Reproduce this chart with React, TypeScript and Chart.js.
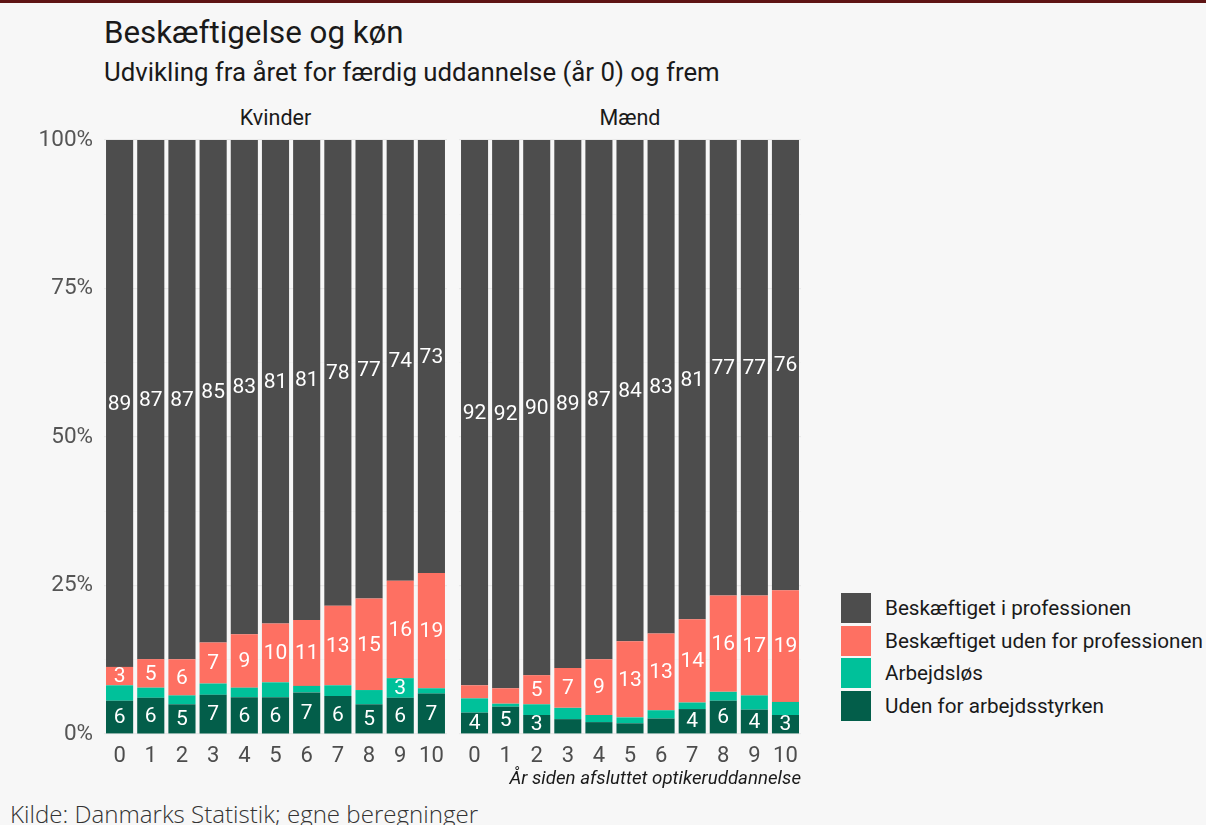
import React, { useEffect, useRef } from "react";
import { Chart, registerables } from "chart.js";
Chart.register(...registerables);

const years = ["0", "1", "2", "3", "4", "5", "6", "7", "8", "9", "10"];
const seriesNames = [
  "Uden for arbejdsstyrken",
  "Arbejdsløs",
  "Beskæftiget uden for professionen",
  "Beskæftiget i professionen",
];
const seriesColors = ["#035e4a", "#00c19a", "#fe7062", "#4d4d4d"];

// Kvinder (women)
const kvUden = [5.6, 6.1, 5.0, 6.6, 6.2, 6.2, 7.0, 6.4, 5.0, 6.1, 6.8];
const kvArbejdslos = [2.6, 1.7, 1.5, 1.9, 1.6, 2.5, 1.1, 1.8, 2.4, 3.3, 0.9];
const kvUdenFor = [3.1, 4.8, 6.1, 6.9, 9.0, 9.9, 11.1, 13.4, 15.4, 16.4, 19.4];
const kvProf = [88.7, 87.4, 87.4, 84.6, 83.2, 81.4, 80.8, 78.4, 77.2, 74.2, 72.9];

// Mænd (men)
const mUden = [3.6, 4.6, 3.2, 2.5, 2.0, 1.8, 2.6, 4.2, 5.6, 4.1, 3.2];
const mArbejdslos = [2.4, 0.5, 1.8, 1.9, 1.2, 1.0, 1.4, 1.1, 1.5, 2.4, 2.2];
const mUdenFor = [2.2, 2.6, 4.9, 6.7, 9.4, 12.8, 12.9, 14.0, 16.2, 16.8, 18.8];
const mProf = [91.8, 92.3, 90.1, 88.9, 87.4, 84.4, 83.1, 80.7, 76.7, 76.7, 75.8];

const yTickValues = [0, 25, 50, 75, 100];

const FONT = "Roboto";

const labelPlugin = {
  id: "segLabels",
  afterDatasetsDraw(chart: any) {
    const ctx = chart.ctx;
    ctx.save();
    ctx.font = `21px ${FONT}`;
    ctx.fillStyle = "#ffffff";
    ctx.textAlign = "center";
    ctx.textBaseline = "middle";
    chart.data.datasets.forEach((ds: any, i: number) => {
      const meta = chart.getDatasetMeta(i);
      meta.data.forEach((el: any, j: number) => {
        const v = ds.data[j];
        if (v >= 3) {
          const p = el.getProps(["x", "y", "base"], true);
          ctx.fillText(String(Math.round(v)), p.x, (p.y + p.base) / 2 + 1);
        }
      });
    });
    ctx.restore();
  },
};

function makeChart(canvas: HTMLCanvasElement, series: number[][], showY: boolean) {
  return new Chart(canvas, {
    type: "bar",
    data: {
      labels: years,
      datasets: series.map((d, i) => ({
        label: seriesNames[i],
        data: d,
        backgroundColor: seriesColors[i],
        borderWidth: 0,
        barPercentage: 0.87,
        categoryPercentage: 1,
      })),
    },
    options: {
      responsive: false,
      animation: false,
      layout: { padding: { top: 10, left: 0, right: 0, bottom: 0 } },
      plugins: { legend: { display: false }, tooltip: { enabled: false } },
      scales: {
        x: {
          stacked: true,
          grid: { display: false, drawTicks: false },
          border: { display: false },
          ticks: { color: "#4d4d4d", font: { family: FONT, size: 22 }, padding: 9 },
          afterFit: (s: any) => {
            s.height = 40;
            s.paddingLeft = 0;
            s.paddingRight = 0;
          },
        },
        y: {
          stacked: true,
          min: 0,
          max: 100,
          border: { display: false },
          grid: {
            drawTicks: false,
            color: (c: any) =>
              yTickValues.includes(c.tick?.value) ? "#e9e9e9" : "#f0f0f0",
            lineWidth: (c: any) => (yTickValues.includes(c.tick?.value) ? 1.2 : 0.8),
          },
          ticks: {
            display: showY,
            stepSize: 12.5,
            color: "#555555",
            font: { family: FONT, size: 22.5 },
            padding: 11,
            callback: (v: any) => (yTickValues.includes(Number(v)) ? `${v}%` : ""),
          },
          afterFit: (s: any) => {
            s.width = showY ? 104 : 0;
            s.paddingTop = 0;
            s.paddingBottom = 0;
          },
        },
      },
    },
    plugins: [labelPlugin],
  } as any);
}

export default function App() {
  const leftRef = useRef<HTMLCanvasElement>(null);
  const rightRef = useRef<HTMLCanvasElement>(null);

  useEffect(() => {
    document.body.style.margin = "0";
    const c1 = makeChart(leftRef.current!, [kvUden, kvArbejdslos, kvUdenFor, kvProf], true);
    const c2 = makeChart(rightRef.current!, [mUden, mArbejdslos, mUdenFor, mProf], false);
    return () => {
      c1.destroy();
      c2.destroy();
    };
  }, []);

  const legendItems = [3, 2, 1, 0];

  return (
    <div
      style={{
        position: "absolute",
        left: 0,
        top: 0,
        width: 1206,
        height: 825,
        background: "#f7f7f7",
        overflow: "hidden",
        fontFamily: FONT,
      }}
    >
      <div style={{ position: "absolute", left: 0, top: 0, width: 1206, height: 3, background: "#5e1414" }} />
      <div style={{ position: "absolute", left: 104, top: 16, fontSize: 31.3, lineHeight: "34px", color: "#1a1a1a", whiteSpace: "nowrap" }}>
        Beskæftigelse og køn
      </div>
      <div style={{ position: "absolute", left: 104, top: 57, fontSize: 25.8, lineHeight: "30px", color: "#1a1a1a", whiteSpace: "nowrap" }}>
        Udvikling fra året for færdig uddannelse (år 0) og frem
      </div>
      <div style={{ position: "absolute", left: 104, width: 343, top: 105, fontSize: 21.5, lineHeight: "26px", color: "#1a1a1a", textAlign: "center" }}>
        Kvinder
      </div>
      <div style={{ position: "absolute", left: 459, width: 342, top: 105, fontSize: 21.5, lineHeight: "26px", color: "#1a1a1a", textAlign: "center" }}>
        Mænd
      </div>
      <canvas
        ref={leftRef}
        width={447}
        height={644}
        style={{ position: "absolute", left: 0, top: 130, width: 447, height: 644 }}
      />
      <canvas
        ref={rightRef}
        width={342}
        height={644}
        style={{ position: "absolute", left: 459, top: 130, width: 342, height: 644 }}
      />
      <div style={{ position: "absolute", right: 1206 - 801, top: 766, fontSize: 18.7, lineHeight: "24px", fontStyle: "italic", color: "#1a1a1a", whiteSpace: "nowrap" }}>
        År siden afsluttet optikeruddannelse
      </div>
      {legendItems.map((si, k) => (
        <div key={si} style={{ position: "absolute", left: 841, top: 593 + k * 32.6, height: 30, display: "flex", alignItems: "center" }}>
          <div style={{ width: 30, height: 30, background: seriesColors[si] }} />
          <div style={{ marginLeft: 14, fontSize: 20.7, color: "#1a1a1a", whiteSpace: "nowrap" }}>{seriesNames[si]}</div>
        </div>
      ))}
      <div style={{ position: "absolute", left: 10, top: 799, fontSize: 24.1, lineHeight: "30px", fontFamily: "'Open Sans'", fontWeight: 300, color: "#333333", whiteSpace: "nowrap" }}>
        Kilde: Danmarks Statistik; egne beregninger
      </div>
    </div>
  );
}
